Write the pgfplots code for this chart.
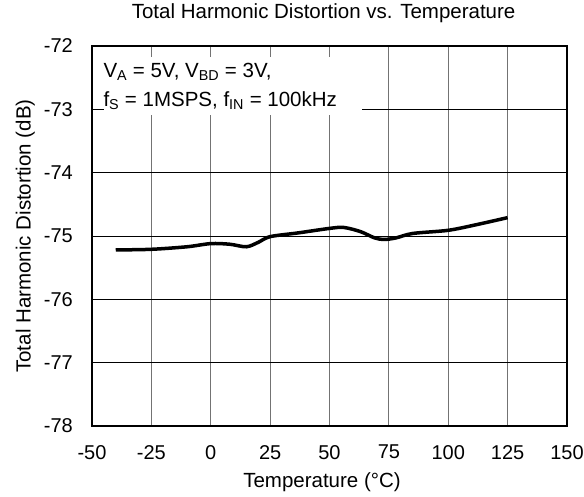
\documentclass[border=0pt]{standalone}
\usepackage{fontspec}
\setmainfont{Liberation Sans}
\usepackage{pgfplots}
\pgfplotsset{compat=1.18}
\begin{document}
\begin{tikzpicture}
\useasboundingbox (-92bp,-71bp) rectangle (492bp,426bp);
\begin{axis}[
  at={(0,0)}, anchor=south west,
  width=475bp, height=380bp, scale only axis,
  xmin=-50, xmax=150, ymin=-78, ymax=-72,
  xtick={-50,-25,...,150}, ytick={-78,-77,...,-72},
  grid=major,
  x grid style={black!55, line width=1bp},
  y grid style={black, line width=0.9bp},
  axis line style={line width=2bp},
  major tick length=0pt,
  /pgf/number format/assume math mode=true,
  tick label style={font=\fontsize{20bp}{24bp}\selectfont},
  yticklabel style={inner sep=0pt, xshift=-19bp},
  xticklabel style={inner sep=0pt, yshift=-19bp},
  title={Total Harmonic Distortion vs. Temperature},
  title style={at={(axis description cs:0.4876,1.0579)}, anchor=base, inner sep=0pt, font=\fontsize{20.5bp}{24bp}\selectfont},
  xlabel={Temperature (°C)},
  xlabel style={at={(axis description cs:0.4842,-0.163)}, anchor=base, inner sep=0pt, font=\fontsize{20.5bp}{24bp}\selectfont},
  ylabel={Total Harmonic Distortion (dB)},
  ylabel style={at={(axis description cs:-0.129,0.5)}, anchor=base, rotate=0, inner sep=0pt, font=\fontsize{20.5bp}{24bp}\selectfont},
]
\fill[white] (rel axis cs:0.0253,0.818) rectangle (rel axis cs:0.568,0.971);
\node[anchor=base west, inner sep=0pt, font=\fontsize{20.5bp}{24bp}\selectfont] at (rel axis cs:0.0238,0.9176) {V\textsubscript{A} = 5V, V\textsubscript{BD} = 3V,};
\node[anchor=base west, inner sep=0pt, font=\fontsize{20.5bp}{24bp}\selectfont] at (rel axis cs:0.0238,0.840) {f\textsubscript{S} = 1MSPS, f\textsubscript{IN} = 100kHz};
\addplot[black, line width=3.5bp, smooth, tension=0.5] coordinates {
(-40,-75.22) (-25,-75.21) (-10,-75.17) (0,-75.12) (8,-75.13) (15,-75.17)
(20,-75.10) (25,-75.01) (37,-74.95) (50,-74.88) (56,-74.865) (63,-74.93)
(69,-75.03) (73,-75.055) (78,-75.03) (85,-74.96) (100,-74.91) (112,-74.82) (125,-74.71)
};
\end{axis}
\end{tikzpicture}
\end{document}
